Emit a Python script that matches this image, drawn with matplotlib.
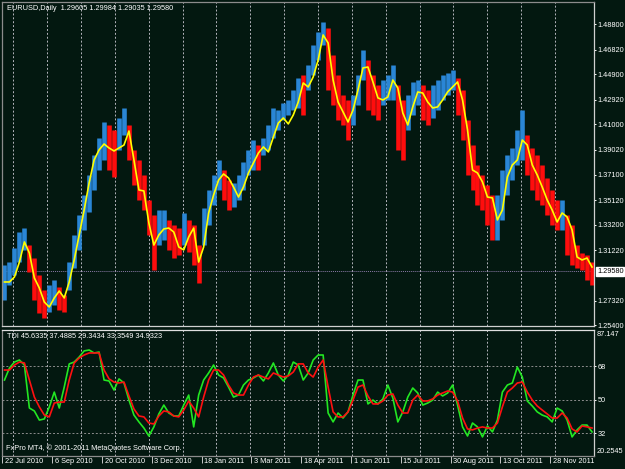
import matplotlib
matplotlib.use('Agg')
import matplotlib.pyplot as plt
import matplotlib.transforms as mtransforms
import numpy as np

plt.rcParams['font.family'] = ['Liberation Sans', 'DejaVu Sans']
FS = 5.3

# ---- price data (EURUSD daily, sampled) ----
bar_high = [1.3008, 1.3031, 1.3140, 1.3264, 1.3295, 1.3163, 1.3062, 1.2930, 1.2814, 1.2853,
            1.2891, 1.2837, 1.2775, 1.3031, 1.3241, 1.3397, 1.3552, 1.3707, 1.3863, 1.3995,
            1.4119, 1.4096, 1.4057, 1.4150, 1.4228, 1.4096, 1.3902, 1.3824, 1.3707, 1.3513,
            1.3397, 1.3435, 1.3435, 1.3358, 1.3319, 1.3295, 1.3412, 1.3358, 1.3319, 1.3163,
            1.3451, 1.3591, 1.3707, 1.3824, 1.3746, 1.3668, 1.3645, 1.3707, 1.3808, 1.3902,
            1.3979, 1.3940, 1.3995, 1.4096, 1.4228, 1.4212, 1.4267, 1.4290, 1.4368, 1.4461,
            1.4484, 1.4562, 1.4717, 1.4818, 1.4896, 1.4849, 1.4640, 1.4484, 1.4329, 1.4290,
            1.4329, 1.4484, 1.4679, 1.4601, 1.4484, 1.4407, 1.4445, 1.4484, 1.4562, 1.4407,
            1.4290, 1.4329, 1.4430, 1.4445, 1.4407, 1.4368, 1.4407, 1.4445, 1.4484, 1.4500,
            1.4523, 1.4461, 1.4368, 1.4135, 1.3940, 1.3785, 1.3707, 1.3630, 1.3552, 1.3552,
            1.3746, 1.3863, 1.3917, 1.4057, 1.4212, 1.4018, 1.3917, 1.3863, 1.3785, 1.3684,
            1.3591, 1.3513, 1.3513, 1.3397, 1.3319, 1.3163, 1.3101, 1.3086, 1.3031]
bar_low = [1.2736, 1.2853, 1.2930, 1.3031, 1.3125, 1.2954, 1.2736, 1.2635, 1.2596, 1.2643,
           1.2697, 1.2658, 1.2643, 1.2814, 1.2985, 1.3125, 1.3280, 1.3420, 1.3591, 1.3746,
           1.3824, 1.3746, 1.3692, 1.3902, 1.4018, 1.3824, 1.3630, 1.3513, 1.3435, 1.3241,
           1.2969, 1.3163, 1.3202, 1.3125, 1.3062, 1.3086, 1.3163, 1.3109, 1.3008, 1.2868,
           1.3163, 1.3319, 1.3474, 1.3591, 1.3513, 1.3435, 1.3459, 1.3513, 1.3591, 1.3707,
           1.3746, 1.3746, 1.3863, 1.3902, 1.3995, 1.4057, 1.4135, 1.4173, 1.4212, 1.4228,
           1.4173, 1.4368, 1.4484, 1.4601, 1.4717, 1.4368, 1.4251, 1.4135, 1.4096, 1.3979,
           1.4096, 1.4251, 1.4445, 1.4212, 1.4173, 1.4135, 1.4251, 1.4290, 1.4290, 1.3902,
           1.3824, 1.4057, 1.4173, 1.4251, 1.4135, 1.4096, 1.4150, 1.4212, 1.4290, 1.4329,
           1.4368, 1.4173, 1.3979, 1.3707, 1.3591, 1.3474, 1.3435, 1.3319, 1.3202, 1.3202,
           1.3358, 1.3552, 1.3668, 1.3785, 1.3824, 1.3707, 1.3591, 1.3513, 1.3474, 1.3397,
           1.3319, 1.3280, 1.3280, 1.3086, 1.3008, 1.2985, 1.2969, 1.2891, 1.2853]
ma_line = [1.2876, 1.2876, 1.2915, 1.3031, 1.3187, 1.3101, 1.2907, 1.2829, 1.2720, 1.2682,
           1.2752, 1.2806, 1.2752, 1.2876, 1.3047, 1.3241, 1.3435, 1.3645, 1.3824, 1.3902,
           1.3948, 1.3917, 1.3894, 1.3917, 1.3940, 1.4049, 1.3824, 1.3591, 1.3583, 1.3334,
           1.3163, 1.3241, 1.3288, 1.3295, 1.3264, 1.3148, 1.3125, 1.3226, 1.3295, 1.3031,
           1.3148, 1.3412, 1.3552, 1.3668, 1.3715, 1.3684, 1.3614, 1.3536, 1.3614, 1.3723,
           1.3801, 1.3878, 1.3925, 1.3886, 1.4002, 1.4111, 1.4150, 1.4104, 1.4173, 1.4274,
           1.4422, 1.4391, 1.4469, 1.4601, 1.4795, 1.4733, 1.4445, 1.4274, 1.4197, 1.4119,
           1.4212, 1.4368, 1.4539, 1.4546, 1.4430, 1.4306, 1.4290, 1.4313, 1.4445, 1.4383,
           1.4189, 1.4096, 1.4236, 1.4352, 1.4344, 1.4274, 1.4228, 1.4236, 1.4290, 1.4352,
           1.4391, 1.4430, 1.4290, 1.4057, 1.3746, 1.3723, 1.3653, 1.3536, 1.3529, 1.3358,
           1.3435, 1.3692, 1.3785, 1.3824, 1.3979, 1.3940, 1.3785, 1.3707, 1.3614, 1.3513,
           1.3435, 1.3342, 1.3412, 1.3381, 1.3280, 1.3070, 1.3047, 1.3062, 1.2992]

# ---- TDI indicator ----
tdi_green = [60.7, 67.2, 70.4, 71.5, 68.8, 45.6, 44.0, 39.1, 39.7, 46.2,
             54.2, 45.6, 56.9, 69.4, 70.4, 73.1, 76.4, 76.9, 75.3, 75.8,
             60.7, 60.2, 55.3, 61.3, 59.1, 49.9, 41.8, 38.1, 34.8, 30.5,
             35.4, 42.4, 47.2, 42.9, 41.3, 41.3, 47.2, 52.6, 35.4, 52.6,
             60.7, 64.5, 68.8, 63.4, 61.8, 56.9, 51.5, 52.6, 58.0, 60.7,
             61.8, 63.4, 60.2, 64.5, 69.9, 63.4, 60.2, 63.4, 70.4, 68.8,
             60.7, 64.5, 71.5, 74.2, 74.2, 42.9, 38.1, 42.9, 40.2, 43.5,
             52.6, 60.7, 60.7, 47.8, 49.9, 47.8, 50.5, 58.0, 51.0, 38.1,
             43.5, 51.5, 56.4, 53.7, 47.2, 48.3, 49.9, 54.2, 52.1, 53.7,
             58.0, 47.2, 35.4, 30.5, 37.5, 35.4, 30.0, 35.9, 32.7, 39.1,
             54.2, 58.0, 59.1, 67.7, 62.3, 49.4, 46.7, 43.5, 41.8, 40.8,
             38.1, 45.6, 44.0, 39.1, 30.0, 33.8, 36.4, 36.4, 32.7]
tdi_red = [66.1, 66.1, 68.8, 70.4, 69.9, 60.7, 51.5, 46.2, 41.8, 40.8,
           48.3, 48.8, 48.8, 60.7, 69.9, 72.6, 74.2, 75.3, 75.3, 75.3,
           66.1, 61.3, 59.6, 59.1, 59.6, 52.1, 45.1, 41.3, 40.8, 37.5,
           37.0, 41.3, 44.0, 43.5, 41.3, 40.8, 44.5, 49.4, 45.6, 40.8,
           51.5, 60.7, 66.1, 66.1, 63.4, 58.0, 53.7, 52.6, 52.6, 58.0,
           62.3, 63.4, 62.3, 61.3, 64.5, 63.4, 62.3, 62.9, 65.0, 69.4,
           69.4, 64.5, 62.3, 67.7, 71.5, 56.9, 43.5, 40.8, 40.8, 43.5,
           49.9, 56.9, 58.0, 52.1, 47.8, 47.8, 49.4, 52.6, 53.2, 47.2,
           42.9, 42.9, 49.9, 52.6, 49.4, 49.4, 50.5, 52.6, 53.7, 54.8,
           54.2, 49.4, 40.2, 34.3, 33.8, 34.8, 35.4, 34.8, 34.8, 37.5,
           46.2, 54.2, 56.4, 59.1, 59.6, 54.2, 49.9, 46.7, 44.5, 42.4,
           40.2, 40.2, 42.9, 40.2, 34.3, 32.7, 35.9, 35.4, 34.8]
tdi_levels = [68, 50, 32]

date_labels = ['22 Jul 2010', '6 Sep 2010', '20 Oct 2010', '3 Dec 2010', '18 Jan 2011',
               '3 Mar 2011', '18 Apr 2011', '1 Jun 2011', '15 Jul 2011', '30 Aug 2011',
               '13 Oct 2011', '28 Nov 2011']
price_ticks = [1.48800, 1.46820, 1.44900, 1.42920, 1.41000, 1.39020, 1.37100,
               1.35120, 1.33200, 1.31220, 1.27320, 1.25400]
last_price = 1.29580

BG = '#031810'
BLUE = '#2a86d6'
RED = '#ff0d0d'
GRID = '#b4b4bc'

fig = plt.figure(figsize=(6.25, 4.69), dpi=100, facecolor=BG)
ax1 = fig.add_axes([2/625, 1 - 326/469, 592/625, 324.5/469], facecolor=BG)
ax2 = fig.add_axes([2/625, 1 - 456/469, 592/625, 126/469], facecolor=BG)

high = np.array(bar_high)
low = np.array(bar_low)
x = np.arange(len(high))
mid = (high + low) / 2
up = np.r_[True, np.diff(mid) >= 0]
colors = np.where(up, BLUE, RED)

xlim = (-0.5, 118.4)
grid_pos = 1.77 + 6.8 * np.arange(17)
label_pos = np.arange(len(date_labels)) * 10 - 0.4

# main price panel
for g in grid_pos:
    ax1.axvline(g, color=GRID, lw=0.7, ls=(0, (2, 2)), zorder=1)
    ax2.axvline(g, color=GRID, lw=0.7, ls=(0, (2, 2)), zorder=1)
ax1.axhline(last_price, color='#8a7aa6', lw=0.7, ls=(0, (1, 1)), zorder=1)
ax1.vlines(x, low, high, colors=colors, lw=3.3, zorder=2)
ax1.plot(x, ma_line, color='#ffff00', lw=1.2, zorder=3)
ax1.set_xlim(*xlim)
ax1.set_ylim(1.2534, 1.5055)

ax1.yaxis.tick_right()
ax1.set_yticks(price_ticks)
ax1.set_yticklabels(['%.5f' % p for p in price_ticks])
ax1.tick_params(axis='y', colors='white', labelsize=FS, length=1.5, pad=1, width=0.7)
ax1.tick_params(axis='x', bottom=False, labelbottom=False)
for side, col in [('left', '#8c8c8c'), ('top', '#8c8c8c'), ('right', '#d0d0d0'), ('bottom', '#d0d0d0')]:
    ax1.spines[side].set_color(col)
    ax1.spines[side].set_linewidth(0.9)

tr1 = mtransforms.blended_transform_factory(ax1.transAxes, ax1.transData)
ax1.text(1.005, last_price, '1.29580', transform=tr1, ha='left', va='center',
         fontsize=FS, color='black',
         bbox=dict(boxstyle='square,pad=0.12', fc='white', ec='white'))
ax1.text(5/592, 1 - 6.5/324.5, 'EURUSD,Daily  1.29605 1.29984 1.29035 1.29580',
         transform=ax1.transAxes, ha='left', va='center', fontsize=FS, color='white')

# TDI panel
for lv in tdi_levels:
    ax2.axhline(lv, color='#8c8c8c', lw=0.7, ls=(0, (2, 2)), zorder=1)
ax2.plot(x, tdi_green, color='#22e622', lw=1.2, zorder=3)
ax2.plot(x, tdi_red, color='#ff1010', lw=1.2, zorder=4)
ax2.set_xlim(*xlim)
ax2.set_ylim(19.71, 87.69)

ax2.yaxis.tick_right()
ax2.set_yticks(tdi_levels)
ax2.set_yticklabels([str(v) for v in tdi_levels])
ax2.tick_params(axis='y', colors='white', labelsize=FS, length=1.5, pad=1, width=0.7)
tr2 = mtransforms.blended_transform_factory(ax2.transAxes, ax2.transData)
ax2.text(1.005, 87.147, '87.147', transform=tr2, ha='left', va='top', fontsize=FS, color='white')
ax2.text(1.005, 20.2545, '20.2545', transform=tr2, ha='left', va='bottom', fontsize=FS, color='white')

ax2.set_xticks(label_pos)
ax2.set_xticklabels(date_labels)
ax2.tick_params(axis='x', colors='#c8c8c8', labelcolor='white', labelsize=FS,
                length=5, width=0.7, pad=1, direction='out')
shift = mtransforms.ScaledTranslation(0.025, 0.062, fig.dpi_scale_trans)
for lbl in ax2.get_xticklabels():
    lbl.set_horizontalalignment('left')
    lbl.set_transform(lbl.get_transform() + shift)
for side, col in [('left', '#8c8c8c'), ('top', '#e0e0e0'), ('right', '#d0d0d0'), ('bottom', '#8c8c8c')]:
    ax2.spines[side].set_color(col)
    ax2.spines[side].set_linewidth(0.9)

ax2.text(5/592, 1 - 6/126, 'TDI 45.6335 37.4885 29.3434 33.3549 34.9323',
         transform=ax2.transAxes, ha='left', va='center', fontsize=FS, color='white')
ax2.text(4/592, 8/126, 'FxPro MT4, \u00a9 2001-2011 MetaQuotes Software Corp.',
         transform=ax2.transAxes, ha='left', va='center', fontsize=FS, color='white')

fig.savefig('out.png', dpi=100, facecolor=BG)
